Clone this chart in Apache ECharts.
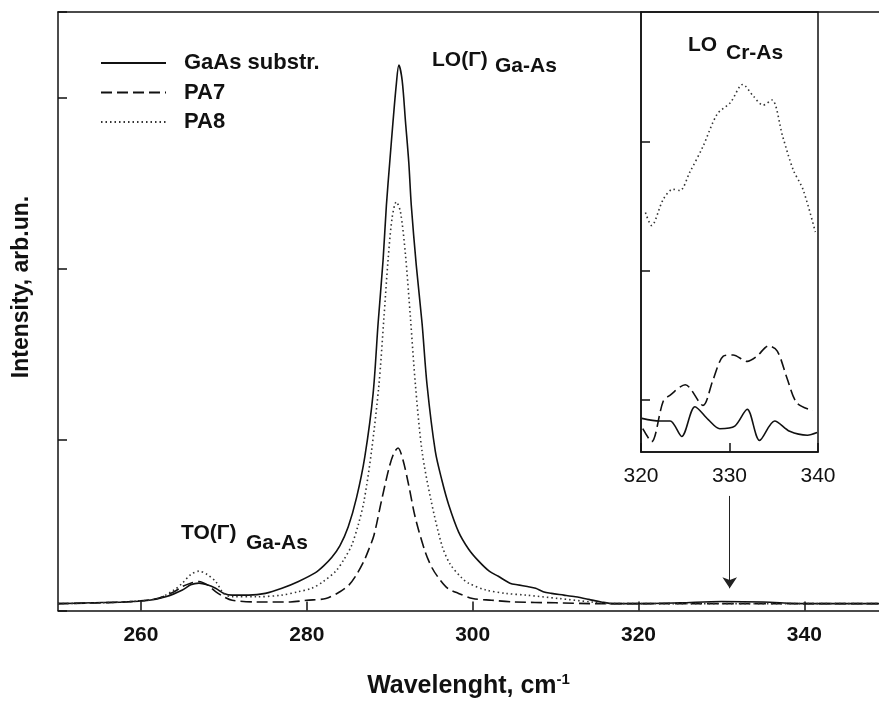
<!DOCTYPE html>
<html>
<head>
<meta charset="utf-8">
<title>Raman spectra</title>
<script src="https://cdn.jsdelivr.net/npm/echarts@6/dist/echarts.min.js"></script>
<style>
  html, body { margin: 0; padding: 0; background: #fff; }
  #chart { width: 879px; height: 704px; }
</style>
</head>
<body>
<div id="chart"></div>
<script>
// main spectrum, [wavenumber, intensity]
const gaasMain = [
  [250, 0.04], [254, 0.045], [258, 0.05], [261, 0.06], [263, 0.08], [265, 0.12], [266, 0.15],
  [267, 0.16], [268, 0.15], [269, 0.13], [270, 0.10], [271, 0.09], [273, 0.09], [275, 0.10],
  [277, 0.13], [279, 0.17], [281, 0.22], [282, 0.26], [283, 0.31], [284, 0.38], [285, 0.49],
  [286, 0.66], [287, 0.90], [288, 1.27], [288.6, 1.68], [289.2, 2.05], [289.6, 2.37], [290, 2.62],
  [290.4, 2.86], [290.8, 3.08], [291.1, 3.19], [291.5, 3.10], [291.9, 2.86], [292.3, 2.62],
  [292.6, 2.37], [293.2, 2.02], [293.9, 1.68], [294.5, 1.32], [295.5, 0.93], [296.3, 0.76],
  [297.1, 0.62], [298.3, 0.46], [299.5, 0.36], [300.7, 0.29], [302, 0.23], [303.1, 0.20],
  [304.5, 0.16], [305.5, 0.15], [306.6, 0.14], [307.6, 0.13], [308.5, 0.11], [309.5, 0.10],
  [311, 0.09], [312.4, 0.08], [314, 0.065], [315.5, 0.05], [317, 0.04], [320, 0.04],
  [325, 0.045], [330, 0.053], [335, 0.05], [340, 0.04], [345, 0.04], [349, 0.04]
];
const pa7Main = [
  [250, 0.04], [258, 0.05], [262, 0.07], [264, 0.11], [265, 0.14], [266, 0.16], [267, 0.17],
  [268, 0.15], [269, 0.11], [270, 0.08], [271, 0.06], [274, 0.05], [278, 0.05], [280, 0.06],
  [282.3, 0.07], [284, 0.11], [285.1, 0.15], [286, 0.21], [286.9, 0.29], [287.5, 0.36],
  [288.1, 0.44], [289, 0.64], [289.9, 0.83], [290.5, 0.92], [291, 0.95], [291.6, 0.88],
  [292.3, 0.73], [293.1, 0.54], [294.3, 0.34], [295.1, 0.25], [295.9, 0.19], [297, 0.13],
  [298.3, 0.10], [300, 0.07], [302.3, 0.06], [305, 0.05], [310, 0.045], [315, 0.04],
  [330, 0.04], [349, 0.04]
];
const pa8Main = [
  [250, 0.04], [258, 0.05], [262, 0.07], [264, 0.12], [265, 0.16], [266, 0.21], [267, 0.23],
  [268, 0.21], [269, 0.17], [270, 0.10], [271, 0.08], [274, 0.08], [277, 0.09], [279, 0.11],
  [280.6, 0.13], [282, 0.17], [283.5, 0.23], [284.5, 0.30], [285.4, 0.38], [286.2, 0.50],
  [286.9, 0.64], [287.8, 0.93], [288.7, 1.32], [289.3, 1.71], [289.8, 2.05], [290.3, 2.30],
  [290.8, 2.39], [291.3, 2.33], [291.9, 2.08], [292.5, 1.71], [293.1, 1.32], [293.9, 0.93],
  [295, 0.64], [296.3, 0.38], [297.3, 0.27], [298.7, 0.19], [299.5, 0.16], [301.6, 0.12],
  [304, 0.10], [306.4, 0.09], [310.4, 0.07], [314.3, 0.05], [317, 0.04], [330, 0.04], [349, 0.04]
];

// inset, 320-340 zoomed
const gaasInset = [
  [320.1, 0.86], [322.1, 0.84], [323.3, 0.84], [324.6, 0.72], [326.1, 0.95], [327.6, 0.85],
  [328.9, 0.78], [330.6, 0.80], [332.0, 0.93], [333.4, 0.69], [335.1, 0.84], [336.8, 0.76],
  [338.8, 0.73], [339.9, 0.75]
];
const pa7Inset = [
  [320.2, 0.78], [321.2, 0.68], [322.5, 0.99], [323.3, 1.04], [325.0, 1.12], [327.0, 0.96],
  [328.1, 1.15], [329.3, 1.34], [330.4, 1.35], [332.0, 1.30], [333.1, 1.34], [334.4, 1.42],
  [335.4, 1.38], [336.5, 1.17], [337.6, 0.98], [339.4, 0.92]
];
const pa8Inset = [
  [320.5, 2.45], [321.2, 2.35], [322.5, 2.55], [323.6, 2.63], [324.4, 2.62], [325.5, 2.76],
  [327.0, 2.96], [328.6, 3.21], [330.1, 3.30], [331.5, 3.44], [332.7, 3.35], [333.8, 3.28],
  [334.8, 3.32], [336.0, 3.04], [337.2, 2.78], [338.3, 2.63], [339.7, 2.30]
];

const mainXTicks = [260, 280, 300, 320, 340];
const insetYTicks = [1, 2, 3];
const seriesNames = ['GaAs substr.', 'PA7', 'PA8'];

const FONT = '"Liberation Sans", Arial, sans-serif';
const INK = '#111';

const solidStyle = { color: INK, width: 1.6, type: 'solid' };
const dashStyle = { color: INK, width: 1.6, type: [11, 5] };
const dotStyle = { color: '#333', width: 1.6, type: [1.5, 3] };

function line(name, data, style, grid, extra) {
  return Object.assign({
    name: name,
    type: 'line',
    data: data,
    xAxisIndex: grid === 0 ? 0 : 2,
    yAxisIndex: grid === 0 ? 0 : 1,
    symbol: 'none',
    smooth: 0.3,
    lineStyle: style,
    itemStyle: { color: style.color },
    animation: false,
    silent: true
  }, extra || {});
}

const chart = echarts.init(document.getElementById('chart'), null, { renderer: 'canvas' });

chart.setOption({
  backgroundColor: '#fff',
  textStyle: { fontFamily: FONT },
  grid: [
    { left: 58, top: 12, right: 0, bottom: 92 },
    { left: 641, top: 12, width: 177, height: 440, show: true, backgroundColor: '#fff',
      borderColor: INK, borderWidth: 1.5 }
  ],
  legend: {
    data: seriesNames,
    orient: 'vertical',
    left: 100,
    top: 52,
    padding: 0,
    itemWidth: 65,
    itemHeight: 14,
    itemGap: 7.5,
    itemStyle: { color: 'rgba(0,0,0,0)', borderWidth: 0, opacity: 0 },
    textStyle: { fontFamily: FONT, fontWeight: 'bold', fontSize: 22, color: INK,
      lineHeight: 22, padding: [0, 0, 0, 13] },
    selectedMode: false
  },
  xAxis: [
    {
      gridIndex: 0, type: 'value', min: 250, max: 349,
      axisLine: { lineStyle: { color: INK, width: 1.5 } },
      axisTick: { inside: true, length: 9, lineStyle: { color: INK, width: 1.5 }, customValues: mainXTicks },
      axisLabel: { customValues: mainXTicks, margin: 14, fontFamily: FONT, fontWeight: 'bold', fontSize: 21, color: INK },
      splitLine: { show: false },
      name: '{a|Wavelenght, cm}{s|-1}',
      nameLocation: 'middle',
      nameGap: 62,
      nameTextStyle: {
        rich: {
          a: { fontFamily: FONT, fontWeight: 'bold', fontSize: 25, color: INK, lineHeight: 28 },
          s: { fontFamily: FONT, fontWeight: 'bold', fontSize: 15, color: INK, verticalAlign: 'top', lineHeight: 14 }
        }
      }
    },
    {
      gridIndex: 0, type: 'value', position: 'top', min: 250, max: 349,
      axisLine: { show: true, lineStyle: { color: INK, width: 1.5 } },
      axisTick: { show: false }, axisLabel: { show: false }, splitLine: { show: false }
    },
    {
      gridIndex: 1, type: 'value', min: 320, max: 340, interval: 10,
      axisLine: { lineStyle: { color: INK, width: 1.5 } },
      axisTick: { inside: true, length: 9, lineStyle: { color: INK, width: 1.5 } },
      axisLabel: { margin: 14, fontFamily: FONT, fontSize: 21, color: INK },
      splitLine: { show: false }
    }
  ],
  yAxis: [
    {
      gridIndex: 0, type: 'value', min: 0, max: 3.5, interval: 1,
      axisLine: { show: true, lineStyle: { color: INK, width: 1.5 } },
      axisTick: { show: true, inside: true, length: 9, lineStyle: { color: INK, width: 1.5 } },
      axisLabel: { show: false },
      splitLine: { show: false }
    },
    {
      gridIndex: 1, type: 'value', min: 0.6, max: 4,
      axisLine: { show: true, lineStyle: { color: INK, width: 1.5 } },
      axisTick: { show: true, inside: true, length: 9, customValues: insetYTicks,
        lineStyle: { color: INK, width: 1.5 } },
      axisLabel: { show: false },
      splitLine: { show: false }
    }
  ],
  series: [
    line(seriesNames[0], gaasMain, solidStyle, 0, {
      markLine: {
        silent: true,
        symbol: ['none', 'arrow'],
        symbolSize: 11,
        label: { show: false },
        lineStyle: { color: '#222', width: 1, type: 'solid' },
        data: [[{ coord: [331, 0.67] }, { coord: [331, 0.13] }]],
        animation: false
      }
    }),
    line(seriesNames[1], pa7Main, dashStyle, 0),
    line(seriesNames[2], pa8Main, dotStyle, 0),
    line(seriesNames[0], gaasInset, solidStyle, 1, { z: 4 }),
    line(seriesNames[1], pa7Inset, dashStyle, 1, { z: 4 }),
    line(seriesNames[2], pa8Inset, dotStyle, 1, { z: 4 })
  ],
  graphic: [
    { type: 'text', rotation: Math.PI / 2, x: 22, y: 287, silent: true,
      style: { text: 'Intensity, arb.un.', font: 'bold 23px ' + FONT, fill: INK,
        align: 'center', verticalAlign: 'middle' } },
    { type: 'text', x: 432, y: 60, silent: true,
      style: { text: 'LO(Γ)', font: 'bold 21px ' + FONT, fill: INK, verticalAlign: 'middle' } },
    { type: 'text', x: 495, y: 66, silent: true,
      style: { text: 'Ga-As', font: 'bold 21px ' + FONT, fill: INK, verticalAlign: 'middle' } },
    { type: 'text', x: 181, y: 533, silent: true,
      style: { text: 'TO(Γ)', font: 'bold 21px ' + FONT, fill: INK, verticalAlign: 'middle' } },
    { type: 'text', x: 246, y: 543, silent: true,
      style: { text: 'Ga-As', font: 'bold 21px ' + FONT, fill: INK, verticalAlign: 'middle' } },
    { type: 'text', x: 688, y: 45, z: 10, silent: true,
      style: { text: 'LO', font: 'bold 21px ' + FONT, fill: INK, verticalAlign: 'middle' } },
    { type: 'text', x: 726, y: 53, z: 10, silent: true,
      style: { text: 'Cr-As', font: 'bold 21px ' + FONT, fill: INK, verticalAlign: 'middle' } }
  ]
});
</script>
</body>
</html>
